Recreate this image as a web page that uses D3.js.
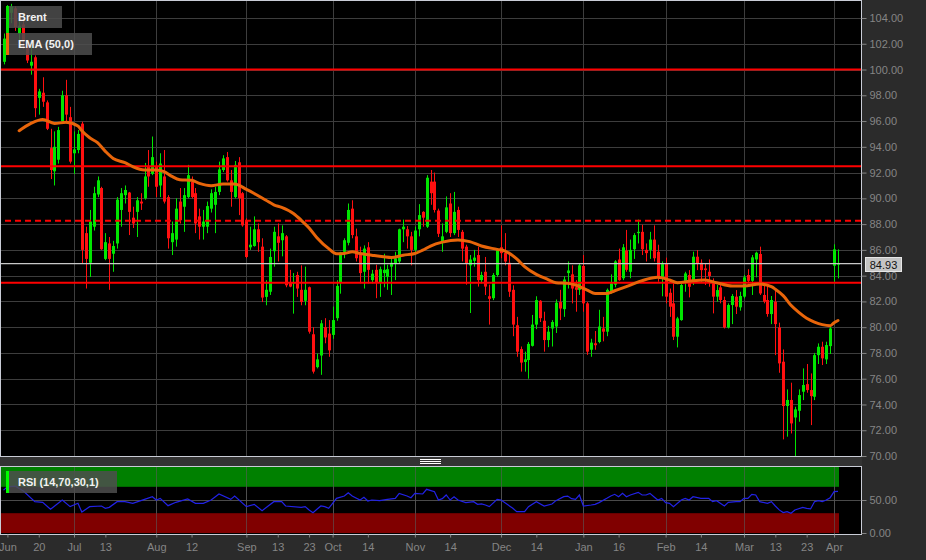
<!DOCTYPE html>
<html><head><meta charset="utf-8">
<script src="https://cdn.jsdelivr.net/npm/d3@7"></script>
<style>
html,body{margin:0;padding:0;background:#2b2b2b;}
svg{display:block;font-family:Arial,"Liberation Sans",sans-serif;}
</style></head><body>
<svg id="chart" width="926" height="560"></svg>
<script>
// ---- DATA (daily Brent candles, early Jun -> 4 Apr) ----
const opens = [100.6,102.6,104.4,104.75,102.8,103.5,102.0,100.3,100.95,97.8,
 98.2,97.45,93.9,92.1,93.0,96.0,98.0,96.3,93.5,93.75,
 95.8,87.3,85.0,87.8,90.3,90.8,85.3,86.5,85.7,86.5,
 89.1,90.25,90.45,88.5,88.95,89.75,90.0,92.45,91.9,92.5,
 91.0,91.7,90.1,86.6,86.8,89.75,89.35,90.1,91.3,90.4,
 88.6,87.8,87.8,89.2,89.5,90.5,92.2,93.2,91.4,90.1,
 92.8,90.4,88.3,86.2,86.3,87.6,86.25,82.35,82.75,85.9,
 87.05,86.75,87.05,83.5,83.4,84.05,82.9,82.05,83.1,79.45,
 76.9,77.8,80.0,79.5,79.4,80.7,83.5,85.85,86.55,89.2,
 87.05,85.6,84.3,86.2,83.65,84.45,83.5,84.2,83.9,84.7,
 84.95,85.1,87.6,87.6,87.05,86.0,87.6,88.95,87.8,91.3,
 91.3,89.05,86.65,87.4,89.6,87.3,89.1,87.4,86.25,84.8,
 85.15,85.6,83.65,84.3,82.4,82.25,84.05,86.2,85.75,85.0,
 82.9,80.15,78.3,77.3,77.45,78.55,80.2,82.05,80.5,79.0,
 79.9,80.05,81.95,81.4,84.2,84.1,83.1,82.9,84.75,81.85,
 78.25,78.75,78.85,79.9,79.65,82.7,83.3,85.25,83.8,85.95,
 84.3,86.05,87.3,87.4,86.0,86.0,86.8,85.85,83.85,84.9,
 82.67,81.85,79.26,80.55,83.53,84.05,83.53,85.47,85.0,84.56,
 84.3,83.45,82.37,83.09,82.11,79.98,81.72,82.37,81.54,82.37,
 84.05,83.6,85.26,85.68,82.5,82.11,81.02,81.98,79.98,77.32,
 73.88,74.35,72.99,73.51,74.99,75.58,75.12,74.6,77.83,78.48,
 77.5,78.53,84.77,84.88];
const highs = [102.8,105.0,105.1,104.9,103.8,103.9,102.3,101.8,101.1,98.5,
 99.4,97.6,95.4,95.2,95.55,98.35,99.2,97.1,95.2,95.3,
 95.95,87.8,89.1,90.9,91.7,90.9,87.3,87.0,86.7,90.1,
 90.8,91.0,90.5,89.35,90.1,90.4,92.75,93.75,94.8,92.85,
 93.5,93.75,90.25,88.2,90.0,90.8,90.8,92.6,91.7,90.8,
 89.2,89.1,89.75,90.7,90.9,92.85,93.35,93.6,92.2,92.9,
 93.2,90.5,88.45,87.8,88.6,88.05,86.9,83.65,86.1,87.8,
 88.05,87.9,87.15,84.45,84.2,84.3,84.8,84.7,83.15,80.0,
 77.95,80.55,80.7,80.55,81.6,83.65,85.85,86.9,89.6,89.85,
 87.65,86.25,86.35,86.6,84.45,84.85,84.7,85.7,84.85,85.45,
 85.85,87.65,88.35,87.85,87.4,87.8,89.55,89.0,91.8,92.2,
 92.0,89.2,88.05,90.15,90.4,90.5,89.35,87.55,86.4,85.6,
 86.0,86.25,84.3,85.45,83.3,84.2,86.1,87.9,87.3,85.85,
 83.25,80.8,78.5,78.1,78.85,80.95,82.4,82.1,81.2,80.1,
 80.55,82.15,82.9,83.95,85.1,84.8,83.65,84.95,85.6,81.95,
 79.1,79.7,81.35,80.8,83.0,84.1,85.2,86.1,86.45,87.55,
 86.8,87.3,88.35,87.95,86.5,87.4,87.9,86.4,85.1,85.4,
 83.0,83.4,80.8,83.35,84.3,84.43,85.86,85.99,85.26,84.95,
 85.26,83.79,83.27,83.27,82.37,81.85,82.57,82.88,82.75,84.05,
 84.5,85.6,85.86,86.25,83.4,83.19,82.42,82.88,80.35,78.27,
 75.17,75.69,73.82,75.17,76.8,77.14,76.41,78.0,78.74,78.87,
 78.87,80.03,86.43,86.04];
const lows = [100.4,102.3,103.6,103.0,101.9,101.6,100.5,99.6,96.3,96.5,
 97.1,95.3,91.5,91.0,92.7,95.8,95.8,92.7,91.9,93.5,
 84.95,83.0,83.9,87.5,90.1,86.0,85.2,82.9,84.3,86.1,
 87.8,89.6,87.15,87.7,87.0,89.1,89.9,90.9,91.8,90.1,
 90.1,89.6,86.1,85.6,86.25,88.05,87.4,90.0,90.0,87.3,
 86.8,86.8,87.3,88.9,87.3,90.25,92.05,91.3,89.35,90.0,
 88.7,87.8,85.35,86.0,86.25,85.85,81.95,81.7,82.5,84.7,
 85.1,85.5,83.1,83.1,81.05,82.35,81.7,81.7,79.5,76.4,
 76.8,76.3,78.75,77.7,79.1,80.5,82.6,85.35,86.35,86.9,
 85.1,83.4,83.0,83.4,83.4,82.25,82.35,83.1,82.9,82.5,
 83.65,84.95,86.6,86.1,84.8,85.85,87.05,87.8,87.7,89.5,
 88.9,87.0,85.85,87.3,87.0,87.15,87.0,85.1,83.3,81.1,
 84.7,83.15,83.4,82.5,80.2,82.1,83.9,85.35,84.8,82.35,
 79.3,77.7,76.55,76.55,76.0,78.5,79.85,80.4,78.1,78.45,
 78.5,79.55,80.55,80.8,83.0,81.85,81.2,82.5,81.2,77.85,
 77.7,78.25,78.75,78.9,79.3,82.6,83.1,83.6,83.65,84.3,
 83.8,85.3,86.5,85.6,85.1,85.3,85.1,83.53,82.4,81.85,
 80.8,79.0,78.43,80.5,82.75,82.31,83.27,84.43,83.53,83.27,
 83.14,81.07,81.98,81.85,79.9,79.9,80.24,81.02,81.28,82.24,
 83.4,82.5,83.87,82.5,81.85,80.81,80.24,77.83,76.46,71.29,
 71.5,71.75,70.0,72.66,74.34,74.91,72.4,74.34,77.14,77.06,
 77.14,77.92,83.53,83.79];
const closes = [102.4,104.6,104.9,103.3,103.4,102.3,100.7,100.6,97.0,98.3,
 97.5,95.4,92.2,94.0,95.3,98.0,96.5,92.85,93.8,95.0,
 86.0,85.3,88.2,90.4,91.4,86.05,86.6,85.3,86.3,89.9,
 90.4,90.65,88.95,88.05,89.85,89.6,91.7,91.7,93.2,90.9,
 92.7,89.75,86.9,87.3,89.2,88.3,90.25,91.8,90.1,88.05,
 87.8,88.2,89.4,90.4,90.5,92.25,93.1,91.4,90.5,92.6,
 90.0,87.9,85.45,86.4,87.6,86.6,82.3,82.9,85.45,87.4,
 86.55,87.3,83.25,83.15,83.5,83.0,81.95,82.9,79.65,76.55,
 77.5,80.3,79.2,78.2,80.55,83.2,85.8,86.75,89.1,87.15,
 85.35,84.2,86.1,84.45,84.15,83.5,84.5,84.45,84.5,85.0,
 85.35,87.6,87.8,87.05,86.0,87.5,88.7,88.5,91.6,90.4,
 89.1,87.25,87.05,89.3,87.3,88.95,87.55,86.1,84.95,85.25,
 85.4,83.65,84.05,83.15,82.2,84.05,86.0,85.75,85.1,82.75,
 80.2,78.1,77.25,77.5,78.7,80.2,82.1,80.7,79.0,79.65,
 80.4,81.9,81.45,83.7,84.4,83.0,82.9,84.8,81.85,78.1,
 78.8,78.6,80.05,79.65,82.9,83.4,85.1,83.65,86.2,84.45,
 86.0,87.15,87.4,86.05,85.75,86.8,85.35,83.85,84.9,82.37,
 81.59,79.26,80.68,83.27,84.17,83.14,85.47,84.95,84.43,84.43,
 83.97,82.37,82.88,82.11,79.98,81.72,82.42,81.59,82.42,83.87,
 83.6,85.42,85.78,82.62,81.98,81.02,82.11,80.24,77.19,73.88,
 74.35,72.53,73.62,74.73,75.51,75.12,74.65,77.83,78.48,77.58,
 78.61,79.9,86.04,84.93];

// EMA(50) at these candle indices
const emaIdx = [4,7,10,13,16,19,20,22,24,26,
 28,31,33,36,39,41,43,45,48,50,
 53,56,59,62,64,67,69,71,74,76,
 78,80,83,85,87,89,91,94,97,99,
 102,105,107,109,112,116,119,122,126,128,
 131,133,136,139,141,144,146,149,151,154,
 156,160,163,167,170,172,176,179,182,186,
 189,193,196,197,199,201,203,205,207,209,
 211,212,213];
const emaVals = [95.25,95.82,96.13,95.82,95.9,95.61,95.25,94.7,94.32,93.65,
 93.1,92.77,92.46,92.2,92.2,92.07,91.7,91.45,91.4,91.16,
 90.98,91.11,91.11,90.7,90.38,89.85,89.5,89.3,88.83,88.3,
 87.7,86.95,86.1,85.7,85.72,85.85,85.72,85.59,85.47,85.41,
 85.59,85.72,85.98,86.3,86.6,86.77,86.64,86.3,86.04,85.91,
 85.3,84.7,84.1,83.7,83.45,83.4,83.27,82.88,82.62,82.62,
 82.83,83.27,83.61,83.87,83.66,83.45,83.61,83.66,83.45,83.19,
 83.19,83.35,83.14,82.95,82.45,81.7,81.15,80.7,80.4,80.2,
 80.12,80.35,80.52];

// RSI(14)
const rsiIdx = [0,1,3,5,8,10,12,15,17,19,
 20,22,25,26,27,29,31,33,36,38,
 39,40,42,44,47,49,51,53,55,58,
 59,62,64,66,69,71,72,76,77,78,
 79,80,81,82,83,84,85,87,88,89,
 91,92,93,94,96,98,100,101,103,104,
 105,107,108,110,111,112,113,114,115,116,
 118,120,121,122,123,124,126,127,130,131,
 133,134,136,138,140,141,143,144,145,146,
 147,148,150,151,152,154,155,156,157,158,
 159,160,162,163,164,165,166,167,168,169,
 170,171,173,174,175,176,178,180,181,182,
 184,185,187,188,189,190,191,192,193,195,
 196,197,198,199,200,201,202,204,205,206,
 207,208,209,210,211,212,213];
const rsiVals = [65,70,71,64,47.5,46.5,35.9,50,39.9,45,
 31.8,39.9,40.9,37.4,38.9,47.5,47.5,45,51,55,
 50,52.5,41.4,46.5,51.5,45,45,50,59,51,
 56,39.9,43.4,33.8,47.5,47.5,40.9,38.9,39.9,34.8,
 30.8,35.9,40.9,39.9,37.4,45,52.5,56,61.1,56,
 50,54,48.5,50,49,51,52.5,60.1,56,53.5,
 60.1,59.1,66.2,62.6,50,52,57.6,50,55,50,
 46,47.5,43.4,44,42.4,39.9,51,50,37.4,32.3,
 32.3,39.9,47.5,40.9,43.9,49,55,56,52,51,
 57.6,40.9,42.4,43.4,46,52.5,56,58.6,55,60.1,
 55,57.6,61.6,57.6,57.6,60.1,55,50,52.5,46,
 45,39.9,50,52.5,50,55,52.5,52.5,47.5,49,
 40.9,46.5,47.5,47.5,52.5,52.5,58.6,57.6,47.5,45,
 47.5,40.9,35,31,32.3,29.8,34.8,38.9,37.4,36.5,
 47.5,49,47.5,50,53.5,62.6,63];

const priceTicks = [70,72,74,76,78,80,82,84,86,88,90,92,94,96,98,100,102,104];
const rsiTicks = [0,50];
const xTickLabels = ["Jun","20","Jul","13","Aug","12","Sep","13","23","Oct","14","Nov","14","Dec","14","Jan","16","Feb","14","Mar","13","23","Apr"];
const xTickIdx = [1,9,18,26,39,48,62,70,78,84,93,105,114,127,136,148,157,169,178,189,197,205,212];
const monthIdx = [18,39,62,84,105,127,148,169,189,212];
const solidLevels = [100.0, 92.5, 83.45];
const dashedLevels = [88.26];
const lastPrice = 84.93;
const rsiUpper = 70, rsiLower = 30;

// ---- LAYOUT ----
const svg = d3.select("#chart");
const PL = 1, PR = 861, PT = 1, PB = 456, RT = 466, RB = 534;
const x = d3.scaleLinear().domain([0, 213]).range([3.5, 838.0]);
const y = d3.scaleLinear().domain([70, 104]).range([456, 18]);
const yR = d3.scaleLinear().domain([0, 100]).range([533, 467]);
const GRID = "#3d3d3d", AXC = "#858585";

svg.append("rect").attr("width", 926).attr("height", 560).attr("fill", "#2b2b2b");
svg.append("rect").attr("x", 0).attr("y", 0).attr("width", PR).attr("height", PB).attr("fill", "#000");
svg.append("rect").attr("x", 0).attr("y", PB + 1).attr("width", PR + 1).attr("height", RT - PB - 1).attr("fill", "#333");
svg.append("rect").attr("x", 0).attr("y", RT).attr("width", PR).attr("height", RB - RT).attr("fill", "#000");

// grid
const grid = svg.append("g");
priceTicks.forEach(t => grid.append("line").attr("x1", PL).attr("x2", PR).attr("y1", Math.round(y(t)) + 0.5).attr("y2", Math.round(y(t)) + 0.5).attr("stroke", GRID));
monthIdx.forEach(k => {
  const xx = Math.round(x(k)) + 0.5;
  grid.append("line").attr("x1", xx).attr("x2", xx).attr("y1", PT).attr("y2", PB).attr("stroke", GRID);
  grid.append("line").attr("x1", xx).attr("x2", xx).attr("y1", RT).attr("y2", RB).attr("stroke", GRID);
});

// RSI bands & line
const xEnd = x(213) + 1;
svg.append("rect").attr("x", PL).attr("y", yR(100)).attr("width", xEnd - PL).attr("height", yR(rsiUpper) - yR(100)).attr("fill", "#008000");
svg.append("rect").attr("x", PL).attr("y", yR(rsiLower)).attr("width", xEnd - PL).attr("height", yR(0) - yR(rsiLower)).attr("fill", "#800000");
svg.append("line").attr("x1", PL).attr("x2", PR).attr("y1", Math.round(yR(50)) + 0.5).attr("y2", Math.round(yR(50)) + 0.5).attr("stroke", "#4a4a4a");
monthIdx.forEach(k => {
  const xx = Math.round(x(k)) + 0.5;
  svg.append("line").attr("x1", xx).attr("x2", xx).attr("y1", RT).attr("y2", RB).attr("stroke", "rgba(90,90,90,0.6)");
});
const rsiPts = rsiIdx.map((k, i) => [k, rsiVals[i]]);
svg.append("path").datum(rsiPts)
  .attr("d", d3.line().x(d => x(d[0])).y(d => yR(d[1])))
  .attr("fill", "none").attr("stroke", "#2222e6").attr("stroke-width", 1.2);

// main panel content (clipped)
svg.append("clipPath").attr("id", "clipMain").append("rect").attr("x", PL).attr("y", PT).attr("width", PR - PL).attr("height", PB - PT);
const main = svg.append("g").attr("clip-path", "url(#clipMain)");

const candles = d3.range(opens.length);
const GREEN = "#00e600", RED = "#ff1010";
main.append("g").selectAll("line").data(candles).join("line")
  .attr("x1", k => Math.round(x(k)) + 0.5).attr("x2", k => Math.round(x(k)) + 0.5)
  .attr("y1", k => y(highs[k])).attr("y2", k => y(lows[k]))
  .attr("stroke", k => closes[k] >= opens[k] ? GREEN : RED).attr("stroke-width", 1);
main.append("g").selectAll("rect").data(candles).join("rect")
  .attr("x", k => Math.round(x(k)) - 1).attr("width", 3)
  .attr("y", k => y(Math.max(opens[k], closes[k])))
  .attr("height", k => Math.max(1, Math.abs(y(opens[k]) - y(closes[k]))))
  .attr("fill", k => closes[k] >= opens[k] ? GREEN : RED);

// level lines
solidLevels.forEach(v => main.append("line").attr("x1", PL).attr("x2", PR).attr("y1", y(v)).attr("y2", y(v)).attr("stroke", "#ff0000").attr("stroke-width", 2));
dashedLevels.forEach(v => main.append("line").attr("x1", PL + 4).attr("x2", PR).attr("y1", y(v)).attr("y2", y(v)).attr("stroke", "#ff0000").attr("stroke-width", 2).attr("stroke-dasharray", "6,4"));
main.append("line").attr("x1", PL).attr("x2", PR).attr("y1", y(lastPrice)).attr("y2", y(lastPrice)).attr("stroke", "#c8c8c8").attr("stroke-width", 1.2);

// EMA
const emaPts = emaIdx.map((k, i) => [k, emaVals[i]]);
main.append("path").datum(emaPts)
  .attr("d", d3.line().x(d => x(d[0])).y(d => y(d[1])).curve(d3.curveMonotoneX))
  .attr("fill", "none").attr("stroke", "#e8650a").attr("stroke-width", 3).attr("stroke-linecap", "round");

// borders
const BORDER = "#c9ccd6";
svg.append("rect").attr("x", 0.5).attr("y", 0.5).attr("width", PR).attr("height", PB).attr("fill", "none").attr("stroke", BORDER);
svg.append("rect").attr("x", 0.5).attr("y", RT + 0.5).attr("width", PR).attr("height", RB - RT).attr("fill", "none").attr("stroke", BORDER);
// separator handle
[459.5, 461.5, 463.5].forEach(yy => svg.append("line").attr("x1", 420).attr("x2", 441).attr("y1", yy).attr("y2", yy).attr("stroke", "#fff").attr("stroke-width", 1));

// axes
function styleAxis(g) {
  g.select(".domain").remove();
  g.selectAll(".tick line").attr("stroke", AXC);
  g.selectAll("text").attr("fill", AXC).attr("font-size", 11).attr("font-family", "Arial, 'Liberation Sans', sans-serif");
}
svg.append("g").attr("transform", `translate(${PR + 0.5},0)`)
  .call(d3.axisRight(y).tickValues(priceTicks).tickFormat(d3.format(".2f")).tickSize(5).tickPadding(3))
  .call(styleAxis);
svg.append("g").attr("transform", `translate(${PR + 0.5},0)`)
  .call(d3.axisRight(yR).tickValues(rsiTicks).tickFormat(d3.format(".2f")).tickSize(5).tickPadding(3))
  .call(styleAxis);
svg.append("g").attr("transform", `translate(0,${RB + 0.5})`)
  .call(d3.axisBottom(x).tickValues(xTickIdx).tickFormat((d, i) => xTickLabels[i]).tickSize(3).tickPadding(6))
  .call(styleAxis);

// last price tag
const lp = svg.append("g").attr("transform", `translate(865,${Math.round(y(lastPrice))})`);
lp.append("rect").attr("x", 0.5).attr("y", -6.5).attr("width", 36).attr("height", 14).attr("fill", "#c4c4c4").attr("stroke", "#e6e6e6");
lp.append("text").attr("x", 18.5).attr("y", 4.5).attr("text-anchor", "middle").attr("font-size", 11).attr("fill", "#111").text(lastPrice.toFixed(2));

// legends
function legend(x0, y0, w, color, label) {
  const g = svg.append("g");
  g.append("rect").attr("x", x0).attr("y", y0).attr("width", w).attr("height", 22).attr("fill", "rgba(78,78,78,0.85)");
  g.append("rect").attr("x", x0).attr("y", y0).attr("width", 3).attr("height", 22).attr("fill", color);
  g.append("text").attr("x", x0 + 12).attr("y", y0 + 15).attr("fill", "#f2f2f2").attr("font-size", 11).attr("font-weight", "bold").text(label);
}
legend(6, 6, 56, GREEN, "Brent");
legend(6, 33, 86, "#e8650a", "EMA (50,0)");
legend(6, 471, 111, "#00ff00", "RSI (14,70,30,1)");
</script>
</body></html>
